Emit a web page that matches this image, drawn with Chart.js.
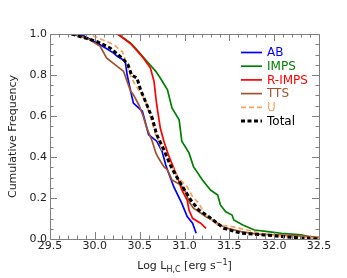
<!DOCTYPE html>
<html><head><meta charset="utf-8">
<script src="https://cdn.jsdelivr.net/npm/chart.js@4"></script>
<style>html,body{margin:0;padding:0;background:#fff;}#c{display:block;}</style>
</head><body>
<div style="width:347px;height:278px;"><canvas id="c" width="347" height="278"></canvas></div>
<script>
const seriesNames = ["AB","IMPS","R-IMPS","TTS","U","Total"];
const abX = [29.84,30.06,30.21,30.25,30.34,30.36,30.40,30.43,30.53,30.56,30.60,30.69,30.75,30.79,30.81,30.88,30.97,31.03,31.09,31.13];
const abY = [1.0,0.948,0.907,0.891,0.867,0.801,0.720,0.663,0.623,0.574,0.509,0.477,0.428,0.362,0.337,0.255,0.174,0.109,0.077,0.028];
const impsX = [30.26,30.40,30.47,30.58,30.68,30.73,30.81,30.86,30.94,30.97,31.05,31.10,31.20,31.29,31.37,31.40,31.46,31.53,31.55,31.65,31.78,31.93,32.08,32.30,32.45];
const impsY = [1.0,0.956,0.923,0.867,0.818,0.785,0.728,0.639,0.582,0.477,0.420,0.353,0.288,0.239,0.215,0.166,0.133,0.117,0.093,0.068,0.044,0.036,0.028,0.020,0.005];
const rimpsX = [30.25,30.34,30.41,30.54,30.62,30.66,30.69,30.73,30.77,30.82,30.88,30.92,30.97,31.03,31.05,31.09,31.18,31.24];
const rimpsY = [1.0,0.972,0.948,0.883,0.834,0.769,0.655,0.541,0.477,0.411,0.346,0.304,0.239,0.190,0.141,0.101,0.077,0.052];
const ttsX = [29.74,29.91,30.06,30.13,30.25,30.32,30.36,30.40,30.43,30.49,30.54,30.58,30.64,30.68,30.71,30.77,30.81,30.86,30.96,31.01,31.05,31.10,31.16,31.24,31.31,31.40,31.48,31.63,31.81,32.04,32.30,32.50];
const ttsY = [1.0,0.980,0.940,0.883,0.842,0.818,0.769,0.720,0.704,0.655,0.599,0.541,0.477,0.420,0.395,0.353,0.337,0.288,0.263,0.231,0.182,0.150,0.133,0.109,0.093,0.068,0.052,0.036,0.024,0.020,0.015,0.008];
const uX = [29.89,29.95,30.17,30.21,30.31,30.41,30.45,30.56,30.68,30.75,30.84,30.93,31.03,31.09,31.16,31.22,31.37,31.53,31.70,31.93,32.19,32.50];
const uY = [1.0,0.997,0.956,0.948,0.912,0.785,0.753,0.680,0.509,0.434,0.371,0.298,0.255,0.206,0.174,0.125,0.068,0.060,0.044,0.020,0.011,0.003];
const totX = [29.74,30.02,30.17,30.26,30.32,30.37,30.41,30.47,30.51,30.58,30.64,30.69,30.77,30.84,30.90,30.99,31.07,31.16,31.27,31.44,31.63,31.89,32.19,32.50];
const totY = [1.0,0.964,0.932,0.899,0.875,0.850,0.80,0.785,0.728,0.655,0.590,0.509,0.436,0.362,0.312,0.247,0.190,0.141,0.109,0.052,0.028,0.020,0.008,0.0];
const xTickLabels = ["29.5","30.0","30.5","31.0","31.5","32.0","32.5"];
const yTickLabels = ["0.0","0.2","0.4","0.6","0.8","1.0"];

const colors = ["#0000ff","#008000","#ff0000","#a0522d","#f4a460","#000000"];
const dashes = [[],[],[],[],[5,3],[4,2.5]];
const widths = [1.7,1.7,1.7,1.7,1.7,3];
const xs=[abX,impsX,rimpsX,ttsX,uX,totX], ys=[abY,impsY,rimpsY,ttsY,uY,totY];

const datasets = seriesNames.map((n,i)=>({
  label:n,
  data: xs[i].map((x,j)=>({x:x,y:ys[i][j]})),
  borderColor:colors[i], borderWidth:widths[i], borderDash:dashes[i],
  pointRadius:0, fill:false, tension:0, order: i===5?0:(6-i)
}));

const FONT = "DejaVu Sans";
const deco = {
  id:'deco',
  afterDatasetsDraw(chart){
    const ctx=chart.ctx, a=chart.chartArea, xs_=chart.scales.x, ys_=chart.scales.y;
    ctx.save();
    ctx.strokeStyle="#808080"; ctx.lineWidth=1;
    ctx.strokeRect(Math.round(a.left)+0.5,Math.round(a.top)+0.5,Math.round(a.right-a.left),Math.round(a.bottom-a.top));
    ctx.beginPath();
    for(let k=0;k<=30;k++){
      const v=29.5+k*0.1; const px=Math.round(xs_.getPixelForValue(v))+0.5;
      const L=(k%5===0)?7:3.5;
      ctx.moveTo(px,a.bottom); ctx.lineTo(px,a.bottom-L);
      ctx.moveTo(px,a.top); ctx.lineTo(px,a.top+L);
    }
    for(let k=0;k<=20;k++){
      const v=k*0.05; const py=Math.round(ys_.getPixelForValue(v))+0.5;
      const L=(k%4===0)?7:3.5;
      ctx.moveTo(a.left,py); ctx.lineTo(a.left+L,py);
      ctx.moveTo(a.right,py); ctx.lineTo(a.right-L,py);
    }
    ctx.stroke();
    // legend
    const lx0=241, lx1=262, tx=267, y0=52.5, dy=13.7;
    ctx.font="12px '"+FONT+"'"; ctx.textBaseline="middle"; ctx.textAlign="left";
    seriesNames.forEach((n,i)=>{
      const y=y0+i*dy;
      ctx.beginPath(); ctx.setLineDash(dashes[i]); ctx.strokeStyle=colors[i]; ctx.lineWidth=widths[i];
      ctx.moveTo(lx0,y); ctx.lineTo(lx1,y); ctx.stroke();
      ctx.setLineDash([]);
      ctx.fillStyle=colors[i]; ctx.fillText(n,tx,y+0.5);
    });
    // tick labels
    ctx.fillStyle="#222"; ctx.font="11px '"+FONT+"'";
    ctx.textAlign="center"; ctx.textBaseline="top";
    xTickLabels.forEach(t=>{ctx.fillText(t,xs_.getPixelForValue(parseFloat(t)),a.bottom+2);});
    ctx.textAlign="right"; ctx.textBaseline="middle";
    yTickLabels.forEach(t=>{ctx.fillText(t,a.left-3,ys_.getPixelForValue(parseFloat(t)));});
    // x title
    const cx=(a.left+a.right)/2, ty=265;
    const parts=[["Log L",11,0],["H,C",8,3],[" [erg s",11,0],["\u22121",8,-4],["]",11,0]];
    let tw=0; parts.forEach(p=>{ctx.font=p[1]+"px '"+FONT+"'"; tw+=ctx.measureText(p[0]).width;});
    let x=cx-tw/2; ctx.textAlign="left"; ctx.textBaseline="alphabetic";
    parts.forEach(p=>{ctx.font=p[1]+"px '"+FONT+"'"; ctx.fillText(p[0],x,ty+p[2]+4); x+=ctx.measureText(p[0]).width;});
    // y title
    ctx.save(); ctx.translate(13.5,(a.top+a.bottom)/2); ctx.rotate(-Math.PI/2);
    ctx.font="11px '"+FONT+"'"; ctx.textAlign="center"; ctx.textBaseline="middle";
    ctx.fillText("Cumulative Frequency",0,0); ctx.restore();
    ctx.restore();
  }
};

new Chart(document.getElementById('c'),{
  type:'line',
  data:{datasets},
  options:{
    responsive:false, animation:false, devicePixelRatio:1,
    layout:{padding:{top:34,right:28,left:0,bottom:0}},
    plugins:{legend:{display:false},tooltip:{enabled:false}},
    scales:{
      x:{type:'linear',min:29.5,max:32.5,grid:{display:false},border:{display:false},
         ticks:{display:false}, afterFit:s=>{s.height=39;}},
      y:{type:'linear',min:0,max:1,grid:{display:false},border:{display:false},
         ticks:{display:false}, afterFit:s=>{s.width=50;}}
    }
  },
  plugins:[deco]
});
</script>
</body></html>
